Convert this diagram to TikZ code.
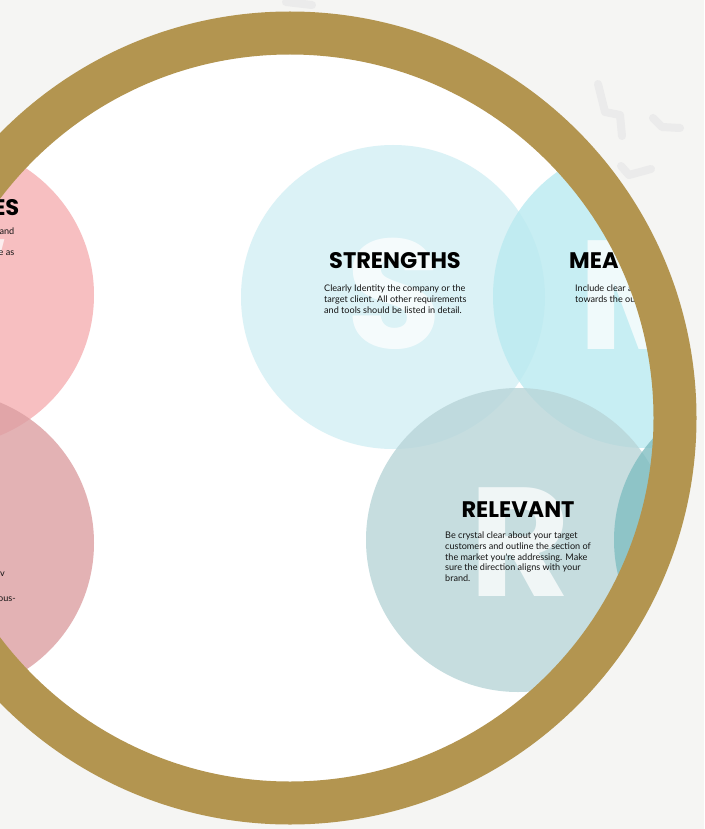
\documentclass[tikz,border=0pt]{standalone}
\usepackage{fontspec}
\usetikzlibrary{positioning}
\newfontfamily\headfont{Poppins}
\newfontfamily\bodyfont{Lato}
\definecolor{gold}{HTML}{B39550}
\definecolor{paper}{HTML}{F5F5F3}
\definecolor{wfill}{HTML}{F6AFB2}
\definecolor{ofill}{HTML}{DC9FA2}
\definecolor{sfill}{HTML}{D2EFF4}
\definecolor{mfill}{HTML}{BAEAF0}
\definecolor{rfill}{HTML}{B8D5D8}
\definecolor{tfill}{HTML}{81BEC2}
\tikzset{font=\bodyfont}

\begin{document}
\begin{tikzpicture}[x=1pt, y=-1pt,
	disc/.style={circle, minimum size=304pt, inner sep=0pt, fill opacity=0.8},
	title/.style={font=\headfont\bfseries\fontsize{22.5}{22.5}\selectfont, text=black, inner sep=0pt, anchor=base},
	body/.style={font=\bodyfont\fontsize{9.1}{10.8}\selectfont, text=black!92, align=left, inner sep=0pt, anchor=north west},
	bigletter/.style={font=\headfont\bfseries\fontsize{155}{155}\selectfont, text=white, text opacity=0.75, inner sep=0pt, anchor=north},
	ring/.style={draw=gold, line width=43pt},
	brush/.style={draw=black!8, line width=8pt, line cap=round, line join=round}]
	\useasboundingbox (0,0) rectangle (704,829);
	\fill[paper] (0,0) rectangle (704,829);
	
	\coordinate (b1) at (598,84);  \coordinate (b2) at (605,112);
	\coordinate (b3) at (620,115); \coordinate (b4) at (622,136);
	\coordinate (b5) at (653,118); \coordinate (b6) at (662,127);
	\coordinate (b7) at (680,128); \coordinate (b8) at (621,166);
	\coordinate (b9) at (629,175); \coordinate (b10) at (651,169);
	\coordinate (b11) at (286,2); \coordinate (b12) at (312,5);
	\draw[brush] (b1) -- (b2) -- (b3) -- (b4);
	\draw[brush] (b5) -- (b6) -- (b7);
	\draw[brush] (b8) -- (b9) -- (b10);
	\draw[brush] (b11) -- (b12);
	
	\coordinate (centre) at (290,418);
	\fill[white] (centre) circle[radius=364pt];
	\begin{scope}
		\clip (centre) circle[radius=364pt];
		\node[disc, fill=wfill] (wdisc) at (-58,295) {};
		\node[disc, fill=ofill] (odisc) at (-58,543) {};
		\node[disc, fill=sfill] (sdisc) at (393,297) {};
		\node[disc, fill=mfill] (mdisc) at (645,296) {};
		\node[disc, fill=rfill] (rdisc) at (518,540) {};
		\node[disc, fill=tfill] (tdisc) at (766,540) {};
		
		\node[bigletter, anchor=north east] (wletter) at (9,239) {W};
		\node[bigletter] (sletter) at (394,238) {S};
		\node[bigletter, anchor=north west] (mletter) at (578,240) {M};
		\node[bigletter] (rletter) at (520,487) {R};
		
		\node[title, anchor=base east] (wtitle) at (19.5,215) {ES};
		\node[body, anchor=base east] (wline1) at (14.5,234) {rand};
		\node[body, anchor=base east] (wline3) at (14.5,255) {e as};
		\node[body, anchor=base east] (oline1) at (5,576) {v};
		\node[body, anchor=base east] (oline2) at (16,601) {ous-};
		
		\node[title] (stitle) at (395,268) {STRENGTHS};
		\node[body] (sbody) at (324,284.5) {Clearly Identity the company or the\\target client. All other requirements\\and tools should be listed in detail.};
		
		\node[title, anchor=base west] (mtitle) at (569,268) {MEA};
		\node[body] (mbody) at (575,284.5) {Include clear a\\towards the ou};
		
		\node[title] (rtitle) at (518,517) {RELEVANT};
		\node[body] (rbody) at (445,531.5) {Be crystal clear about your target\\customers and outline the section of\\the market you're addressing. Make\\sure the direction aligns with your\\brand.};
	\end{scope}
	\draw[ring] (centre) circle[radius=385pt];
\end{tikzpicture}
\end{document}
